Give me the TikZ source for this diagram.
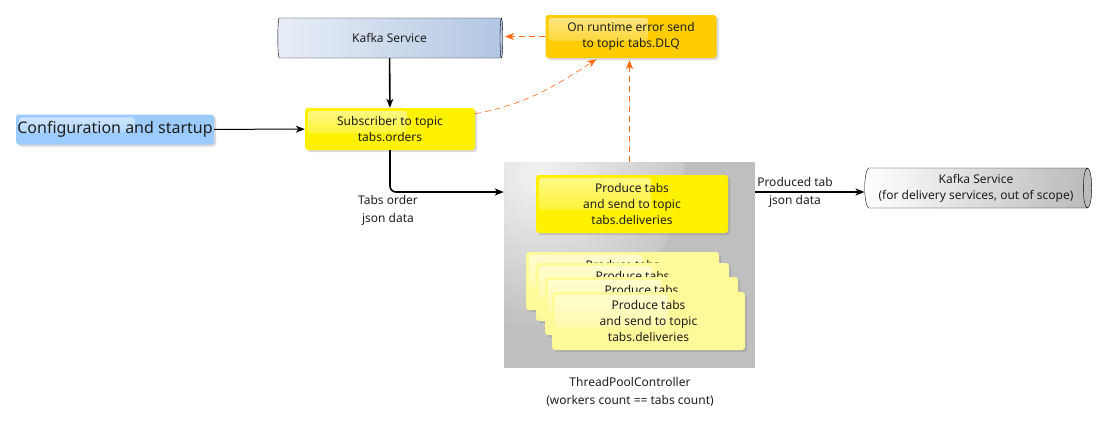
\documentclass[tikz,border=0pt]{standalone}
\usepackage{fontspec}
\setmainfont{Noto Sans}
\usetikzlibrary{shapes.geometric,shadows,fadings,calc,arrows.meta}
\definecolor{dlqorange}{HTML}{FFCC00}
\definecolor{confblue}{HTML}{9CCCFF}
\definecolor{errline}{HTML}{FF6A13}
\definecolor{kafkaleft}{HTML}{E8EEF7}
\definecolor{kafkaright}{HTML}{B2C6E2}
\definecolor{txt}{HTML}{1E1E1E}
\pgfdeclareradialshading{poolglow}{\pgfpoint{0bp}{0bp}}{color(0bp)=(gray!10);
  color(20bp)=(gray!50); color(50bp)=(gray!50)}

\begin{document}
\begin{tikzpicture}[x=1pt, y=-1pt, >={Stealth[length=9pt, width=7pt, inset=2.5pt]},
    task/.style={rounded corners=3pt, align=center, text=txt, inner sep=0pt,
      font=\fontsize{12}{16}\selectfont,
      drop shadow={shadow xshift=2pt, shadow yshift=-2pt, opacity=0.3},
      path picture={\fill[white, opacity=0.55, path fading=south, rounded corners=3pt]
        ([xshift=3pt, yshift=-3pt]path picture bounding box.north west) rectangle
        ($(path picture bounding box.north west)!0.6!(path picture bounding box.south east)$);}},
    service/.style={cylinder, draw, aspect=0.3, shape border rotate=0, align=center,
      text=txt, font=\fontsize{12}{16}\selectfont, inner sep=0pt},
    errflow/.style={->, errline, semithick, dash pattern=on 6pt off 4pt, shorten >=2pt},
    label/.style={align=center, text=txt, font=\fontsize{12}{18}\selectfont}]
    \useasboundingbox (0,0) rectangle (1105,426);
    \node[service, left color=kafkaleft, right color=kafkaright,
      minimum height=225, minimum width=40] (kafka) at (389.5,38) {Kafka Service};
    \node[task, fill=dlqorange, minimum width=171, minimum height=43] (dlq) at (631,36.5)
      {On runtime error send\\to topic tabs.DLQ};
    \node[task, fill=yellow, minimum width=170, minimum height=42] (sub) at (390,129)
      {Subscriber to topic\\tabs.orders};
    \node[task, fill=confblue, minimum width=198, minimum height=30,
      font=\fontsize{16}{18}\selectfont] (conf) at (115,129.5) {Configuration and startup};
    \node[fill=gray!50, minimum width=251, minimum height=206, inner sep=0pt,
      path picture={\shade[shading=poolglow]
        (path picture bounding box.north west) circle (180pt);}] (pool) at (629.5,265) {};
    \node[task, fill=yellow, minimum width=192, minimum height=58] (prod) at (632,204)
      {Produce tabs\\and send to topic\\tabs.deliveries};
    \foreach \i/\x/\y in {1/622.5/281, 2/632.5/292, 3/641.5/306, 4/648.5/321}
      \node[task, fill=yellow!40, minimum width=193, minimum height=58] (w\i) at (\x,\y)
        {Produce tabs\\and send to topic\\tabs.deliveries};
    \node[label] (poolname) at (630,392) {ThreadPoolController\\(workers count == tabs count)};
    \node[service, left color=white, right color=gray!55,
      minimum height=227, minimum width=40] (kafka2) at (976,188)
      {Kafka Service\\(for delivery services, out of scope)};
    \node[label] (orderdata) at (388,210) {Tabs order\\json data};
    \node[label] (tabdata) at (795,192) {Produced tab\\json data};
    \draw [->, line width=1pt] (conf) -- (sub);
    \draw [->, line width=1.6pt] (kafka) -- (sub);
    \draw [->, line width=1.6pt, rounded corners=6pt] (sub.south) |- (pool.west |- tabdata);
    \draw [->, line width=1.6pt] (pool.east |- tabdata) -- (kafka2.west |- tabdata);
    \draw [errflow] (dlq.west) -- (dlq.west -| kafka.east);
    \draw [errflow] ([yshift=-6pt]sub.north east) to[out=11, in=-147] ([xshift=-33pt]dlq.south);
    \draw [errflow] (pool.north) -- (pool.north |- dlq.south);
  \end{tikzpicture}
\end{document}
